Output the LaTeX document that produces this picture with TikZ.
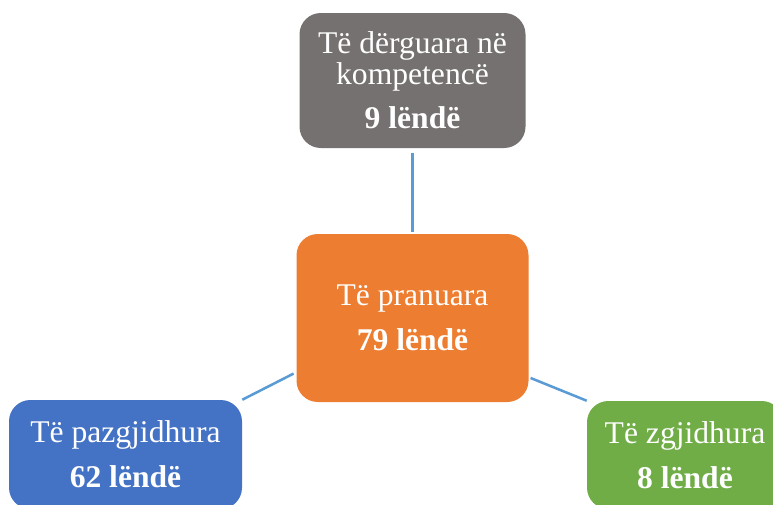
\documentclass[tikz,border=0pt]{standalone}
\usepackage{fontspec}
\setmainfont{Liberation Serif}

\definecolor{sentgray}{HTML}{767171}
\definecolor{acceptorange}{HTML}{ED7D31}
\definecolor{openblue}{HTML}{4472C4}
\definecolor{donegreen}{HTML}{70AD47}
\definecolor{linkblue}{HTML}{5B9BD5}

\begin{document}
\begin{tikzpicture}[x=.75pt,y=-.75pt,
  box/.style={rectangle, rounded corners=16pt, text=white, align=center,
    inner sep=0pt, font=\fontsize{23.7}{23.2}\selectfont},
  link/.style={draw=linkblue, line width=1.9pt}]

\useasboundingbox (0,0) rectangle (773,504);
\clip (0,0) rectangle (773,504);

\node[box, fill=sentgray, minimum width=169.5pt, minimum height=101.25pt]
  (sent) at (412.5,80.5)
  {Të dërguara në\\kompetencë\\[10pt]\textbf{9 lëndë}};

\node[box, fill=acceptorange, minimum width=174pt, minimum height=126pt]
  (accepted) at (412.5,318)
  {Të pranuara\\[10.5pt]\textbf{79 lëndë}};

\node[box, fill=openblue, minimum width=174.75pt, minimum height=81.75pt]
  (open) at (125.5,454.5)
  {Të pazgjidhura\\[10.5pt]\textbf{62 lëndë}};

\node[box, fill=donegreen, minimum width=147pt, minimum height=81pt]
  (done) at (685,455)
  {Të zgjidhura\\[10.5pt]\textbf{8 lëndë}};

% connectors
\draw[link, shorten <=3.75pt, shorten >=1.5pt]
  (sent.south) -- (accepted.north);
\draw[link, shorten <=2.25pt]
  (accepted.205.8) -- (open.north east);
\draw[link, shorten <=1.5pt]
  (accepted.-27) -- (done.north west);
\end{tikzpicture}
\end{document}
